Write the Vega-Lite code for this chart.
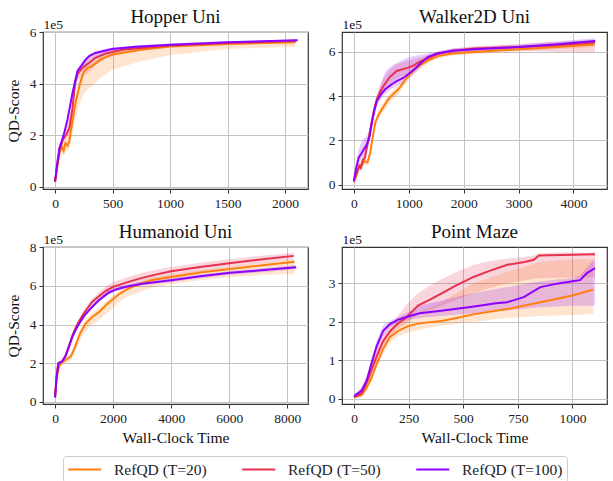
{
  "$schema": "https://vega.github.io/schema/vega-lite/v6.json",
  "background": "white",
  "padding": {"left": 5, "top": 7, "right": 2, "bottom": 2},
  "config": {
    "font": "Liberation Serif",
    "view": {"stroke": "#333333", "strokeWidth": 1.2},
    "axis": {
      "labelFont": "Liberation Serif", "labelFontSize": 13.5, "labelColor": "#222222", "labelOverlap": false,
      "titleFont": "Liberation Serif", "titleFontSize": 15.5, "titleFontWeight": "normal", "titleColor": "#111111",
      "tickColor": "#333333", "tickSize": 4, "labelPadding": 3,
      "gridColor": "#c4c4c4", "gridWidth": 1, "domain": false
    },
    "title": {"font": "Liberation Serif", "fontSize": 19, "fontWeight": 400, "color": "#111111", "offset": -10},
    "style": {"group-title": {"fontWeight": 400, "font": "Liberation Serif"}},
    "legend": {"labelFont": "Liberation Serif", "labelFontSize": 15.5, "labelColor": "#222222", "orient": "none", "legendX": 20, "legendY": 424, "direction": "horizontal", "symbolType": "M-1,0H3", "symbolSize": 272, "symbolStrokeWidth": 2, "symbolOpacity": 1, "labelOffset": 28, "columnPadding": 31, "strokeColor": "#cccccc", "padding": 4, "cornerRadius": 3}
  },
  "datasets": {
    "hopper": [
      {"method":"RefQD (T=20)","time":0,"lo":10000,"qd":20000,"hi":45000},
      {"method":"RefQD (T=20)","time":20,"lo":60000,"qd":80000,"hi":100000},
      {"method":"RefQD (T=20)","time":40,"lo":110000,"qd":135000,"hi":155000},
      {"method":"RefQD (T=20)","time":60,"lo":130000,"qd":155000,"hi":175000},
      {"method":"RefQD (T=20)","time":75,"lo":120000,"qd":140000,"hi":165000},
      {"method":"RefQD (T=20)","time":90,"lo":140000,"qd":170000,"hi":190000},
      {"method":"RefQD (T=20)","time":110,"lo":140000,"qd":160000,"hi":195000},
      {"method":"RefQD (T=20)","time":125,"lo":150000,"qd":180000,"hi":220000},
      {"method":"RefQD (T=20)","time":140,"lo":180000,"qd":225000,"hi":260000},
      {"method":"RefQD (T=20)","time":180,"lo":270000,"qd":330000,"hi":360000},
      {"method":"RefQD (T=20)","time":220,"lo":330000,"qd":405000,"hi":430000},
      {"method":"RefQD (T=20)","time":250,"lo":360000,"qd":445000,"hi":465000},
      {"method":"RefQD (T=20)","time":280,"lo":375000,"qd":460000,"hi":480000},
      {"method":"RefQD (T=20)","time":320,"lo":390000,"qd":468000,"hi":490000},
      {"method":"RefQD (T=20)","time":400,"lo":425000,"qd":495000,"hi":510000},
      {"method":"RefQD (T=20)","time":500,"lo":455000,"qd":513000,"hi":525000},
      {"method":"RefQD (T=20)","time":750,"lo":487000,"qd":531000,"hi":540000},
      {"method":"RefQD (T=20)","time":1000,"lo":510000,"qd":544000,"hi":550000},
      {"method":"RefQD (T=20)","time":1500,"lo":535000,"qd":554000,"hi":560000},
      {"method":"RefQD (T=20)","time":2090,"lo":542000,"qd":560000,"hi":566000},
      {"method":"RefQD (T=50)","time":0,"lo":15000,"qd":20000,"hi":30000},
      {"method":"RefQD (T=50)","time":20,"lo":75000,"qd":90000,"hi":105000},
      {"method":"RefQD (T=50)","time":40,"lo":130000,"qd":145000,"hi":160000},
      {"method":"RefQD (T=50)","time":70,"lo":170000,"qd":185000,"hi":200000},
      {"method":"RefQD (T=50)","time":100,"lo":190000,"qd":205000,"hi":225000},
      {"method":"RefQD (T=50)","time":125,"lo":210000,"qd":230000,"hi":260000},
      {"method":"RefQD (T=50)","time":150,"lo":270000,"qd":300000,"hi":330000},
      {"method":"RefQD (T=50)","time":175,"lo":370000,"qd":405000,"hi":425000},
      {"method":"RefQD (T=50)","time":200,"lo":415000,"qd":440000,"hi":455000},
      {"method":"RefQD (T=50)","time":240,"lo":430000,"qd":462000,"hi":475000},
      {"method":"RefQD (T=50)","time":300,"lo":445000,"qd":482000,"hi":495000},
      {"method":"RefQD (T=50)","time":350,"lo":470000,"qd":500000,"hi":510000},
      {"method":"RefQD (T=50)","time":450,"lo":500000,"qd":518000,"hi":528000},
      {"method":"RefQD (T=50)","time":600,"lo":520000,"qd":532000,"hi":540000},
      {"method":"RefQD (T=50)","time":1000,"lo":542000,"qd":548000,"hi":554000},
      {"method":"RefQD (T=50)","time":1500,"lo":552000,"qd":557000,"hi":562000},
      {"method":"RefQD (T=50)","time":2095,"lo":560000,"qd":566000,"hi":570000},
      {"method":"RefQD (T=100)","time":0,"lo":18000,"qd":22000,"hi":30000},
      {"method":"RefQD (T=100)","time":20,"lo":85000,"qd":95000,"hi":105000},
      {"method":"RefQD (T=100)","time":37,"lo":140000,"qd":150000,"hi":160000},
      {"method":"RefQD (T=100)","time":60,"lo":170000,"qd":180000,"hi":190000},
      {"method":"RefQD (T=100)","time":80,"lo":200000,"qd":210000,"hi":220000},
      {"method":"RefQD (T=100)","time":108,"lo":250000,"qd":260000,"hi":270000},
      {"method":"RefQD (T=100)","time":150,"lo":345000,"qd":360000,"hi":375000},
      {"method":"RefQD (T=100)","time":194,"lo":435000,"qd":448000,"hi":460000},
      {"method":"RefQD (T=100)","time":230,"lo":455000,"qd":470000,"hi":482000},
      {"method":"RefQD (T=100)","time":266,"lo":475000,"qd":493000,"hi":502000},
      {"method":"RefQD (T=100)","time":300,"lo":490000,"qd":508000,"hi":515000},
      {"method":"RefQD (T=100)","time":352,"lo":505000,"qd":519000,"hi":526000},
      {"method":"RefQD (T=100)","time":495,"lo":525000,"qd":534000,"hi":540000},
      {"method":"RefQD (T=100)","time":700,"lo":537000,"qd":543000,"hi":548000},
      {"method":"RefQD (T=100)","time":1011,"lo":546000,"qd":551000,"hi":556000},
      {"method":"RefQD (T=100)","time":1500,"lo":556000,"qd":560000,"hi":564000},
      {"method":"RefQD (T=100)","time":2110,"lo":564000,"qd":568000,"hi":572000}
    ],
    "walker": [
      {"method":"RefQD (T=20)","time":0,"lo":5000,"qd":10000,"hi":20000},
      {"method":"RefQD (T=20)","time":50,"lo":30000,"qd":45000,"hi":60000},
      {"method":"RefQD (T=20)","time":100,"lo":70000,"qd":85000,"hi":100000},
      {"method":"RefQD (T=20)","time":150,"lo":75000,"qd":90000,"hi":105000},
      {"method":"RefQD (T=20)","time":196,"lo":90000,"qd":106000,"hi":120000},
      {"method":"RefQD (T=20)","time":250,"lo":85000,"qd":100000,"hi":115000},
      {"method":"RefQD (T=20)","time":299,"lo":125000,"qd":144000,"hi":160000},
      {"method":"RefQD (T=20)","time":329,"lo":170000,"qd":190000,"hi":210000},
      {"method":"RefQD (T=20)","time":390,"lo":260000,"qd":280000,"hi":300000},
      {"method":"RefQD (T=20)","time":450,"lo":295000,"qd":315000,"hi":335000},
      {"method":"RefQD (T=20)","time":510,"lo":320000,"qd":340000,"hi":360000},
      {"method":"RefQD (T=20)","time":631,"lo":365000,"qd":386000,"hi":405000},
      {"method":"RefQD (T=20)","time":700,"lo":385000,"qd":405000,"hi":425000},
      {"method":"RefQD (T=20)","time":812,"lo":410000,"qd":431000,"hi":450000},
      {"method":"RefQD (T=20)","time":900,"lo":440000,"qd":460000,"hi":478000},
      {"method":"RefQD (T=20)","time":993,"lo":472000,"qd":491000,"hi":508000},
      {"method":"RefQD (T=20)","time":1100,"lo":502000,"qd":520000,"hi":535000},
      {"method":"RefQD (T=20)","time":1233,"lo":528000,"qd":544000,"hi":558000},
      {"method":"RefQD (T=20)","time":1400,"lo":555000,"qd":568000,"hi":580000},
      {"method":"RefQD (T=20)","time":1535,"lo":570000,"qd":581000,"hi":592000},
      {"method":"RefQD (T=20)","time":1800,"lo":583000,"qd":593000,"hi":603000},
      {"method":"RefQD (T=20)","time":2197,"lo":590000,"qd":600000,"hi":610000},
      {"method":"RefQD (T=20)","time":3000,"lo":602000,"qd":612000,"hi":622000},
      {"method":"RefQD (T=20)","time":3700,"lo":612000,"qd":622000,"hi":632000},
      {"method":"RefQD (T=20)","time":4380,"lo":622000,"qd":633000,"hi":643000},
      {"method":"RefQD (T=50)","time":0,"lo":10000,"qd":15000,"hi":25000},
      {"method":"RefQD (T=50)","time":50,"lo":35000,"qd":50000,"hi":65000},
      {"method":"RefQD (T=50)","time":100,"lo":70000,"qd":85000,"hi":100000},
      {"method":"RefQD (T=50)","time":130,"lo":60000,"qd":75000,"hi":95000},
      {"method":"RefQD (T=50)","time":160,"lo":90000,"qd":110000,"hi":130000},
      {"method":"RefQD (T=50)","time":200,"lo":100000,"qd":120000,"hi":145000},
      {"method":"RefQD (T=50)","time":240,"lo":150000,"qd":170000,"hi":195000},
      {"method":"RefQD (T=50)","time":280,"lo":200000,"qd":220000,"hi":245000},
      {"method":"RefQD (T=50)","time":330,"lo":270000,"qd":290000,"hi":315000},
      {"method":"RefQD (T=50)","time":380,"lo":330000,"qd":350000,"hi":375000},
      {"method":"RefQD (T=50)","time":420,"lo":365000,"qd":385000,"hi":410000},
      {"method":"RefQD (T=50)","time":480,"lo":395000,"qd":420000,"hi":450000},
      {"method":"RefQD (T=50)","time":540,"lo":415000,"qd":446000,"hi":480000},
      {"method":"RefQD (T=50)","time":650,"lo":450000,"qd":485000,"hi":520000},
      {"method":"RefQD (T=50)","time":780,"lo":480000,"qd":514000,"hi":545000},
      {"method":"RefQD (T=50)","time":990,"lo":500000,"qd":529000,"hi":560000},
      {"method":"RefQD (T=50)","time":1100,"lo":515000,"qd":540000,"hi":568000},
      {"method":"RefQD (T=50)","time":1203,"lo":535000,"qd":556000,"hi":575000},
      {"method":"RefQD (T=50)","time":1350,"lo":555000,"qd":572000,"hi":585000},
      {"method":"RefQD (T=50)","time":1535,"lo":578000,"qd":592000,"hi":603000},
      {"method":"RefQD (T=50)","time":1800,"lo":592000,"qd":605000,"hi":615000},
      {"method":"RefQD (T=50)","time":2200,"lo":600000,"qd":615000,"hi":625000},
      {"method":"RefQD (T=50)","time":3000,"lo":605000,"qd":622000,"hi":635000},
      {"method":"RefQD (T=50)","time":3700,"lo":600000,"qd":630000,"hi":645000},
      {"method":"RefQD (T=50)","time":4390,"lo":597000,"qd":642000,"hi":655000},
      {"method":"RefQD (T=100)","time":0,"lo":10000,"qd":16000,"hi":30000},
      {"method":"RefQD (T=100)","time":40,"lo":50000,"qd":70000,"hi":100000},
      {"method":"RefQD (T=100)","time":88,"lo":95000,"qd":122000,"hi":160000},
      {"method":"RefQD (T=100)","time":150,"lo":120000,"qd":145000,"hi":200000},
      {"method":"RefQD (T=100)","time":238,"lo":160000,"qd":182000,"hi":220000},
      {"method":"RefQD (T=100)","time":290,"lo":200000,"qd":220000,"hi":250000},
      {"method":"RefQD (T=100)","time":330,"lo":260000,"qd":280000,"hi":300000},
      {"method":"RefQD (T=100)","time":370,"lo":310000,"qd":330000,"hi":350000},
      {"method":"RefQD (T=100)","time":420,"lo":360000,"qd":378000,"hi":400000},
      {"method":"RefQD (T=100)","time":500,"lo":390000,"qd":410000,"hi":460000},
      {"method":"RefQD (T=100)","time":570,"lo":410000,"qd":431000,"hi":510000},
      {"method":"RefQD (T=100)","time":700,"lo":435000,"qd":455000,"hi":540000},
      {"method":"RefQD (T=100)","time":780,"lo":445000,"qd":468000,"hi":550000},
      {"method":"RefQD (T=100)","time":900,"lo":460000,"qd":482000,"hi":565000},
      {"method":"RefQD (T=100)","time":990,"lo":480000,"qd":499000,"hi":575000},
      {"method":"RefQD (T=100)","time":1100,"lo":500000,"qd":520000,"hi":582000},
      {"method":"RefQD (T=100)","time":1233,"lo":535000,"qd":552000,"hi":588000},
      {"method":"RefQD (T=100)","time":1350,"lo":562000,"qd":578000,"hi":593000},
      {"method":"RefQD (T=100)","time":1535,"lo":582000,"qd":594000,"hi":602000},
      {"method":"RefQD (T=100)","time":1800,"lo":595000,"qd":605000,"hi":615000},
      {"method":"RefQD (T=100)","time":2200,"lo":602000,"qd":612000,"hi":622000},
      {"method":"RefQD (T=100)","time":3000,"lo":612000,"qd":622000,"hi":634000},
      {"method":"RefQD (T=100)","time":3700,"lo":622000,"qd":635000,"hi":648000},
      {"method":"RefQD (T=100)","time":4396,"lo":635000,"qd":649000,"hi":662000}
    ],
    "humanoid": [
      {"method":"RefQD (T=20)","time":0,"lo":15000,"qd":25000,"hi":35000},
      {"method":"RefQD (T=20)","time":60,"lo":110000,"qd":130000,"hi":145000},
      {"method":"RefQD (T=20)","time":150,"lo":170000,"qd":185000,"hi":198000},
      {"method":"RefQD (T=20)","time":250,"lo":192000,"qd":205000,"hi":215000},
      {"method":"RefQD (T=20)","time":400,"lo":205000,"qd":220000,"hi":232000},
      {"method":"RefQD (T=20)","time":550,"lo":215000,"qd":235000,"hi":255000},
      {"method":"RefQD (T=20)","time":702,"lo":260000,"qd":288000,"hi":310000},
      {"method":"RefQD (T=20)","time":850,"lo":315000,"qd":350000,"hi":370000},
      {"method":"RefQD (T=20)","time":1043,"lo":365000,"qd":402000,"hi":420000},
      {"method":"RefQD (T=20)","time":1250,"lo":395000,"qd":435000,"hi":455000},
      {"method":"RefQD (T=20)","time":1497,"lo":420000,"qd":463000,"hi":485000},
      {"method":"RefQD (T=20)","time":1750,"lo":455000,"qd":500000,"hi":520000},
      {"method":"RefQD (T=20)","time":2008,"lo":490000,"qd":534000,"hi":552000},
      {"method":"RefQD (T=20)","time":2250,"lo":520000,"qd":562000,"hi":578000},
      {"method":"RefQD (T=20)","time":2520,"lo":545000,"qd":586000,"hi":600000},
      {"method":"RefQD (T=20)","time":3000,"lo":575000,"qd":615000,"hi":628000},
      {"method":"RefQD (T=20)","time":3313,"lo":590000,"qd":630000,"hi":642000},
      {"method":"RefQD (T=20)","time":4000,"lo":610000,"qd":647000,"hi":660000},
      {"method":"RefQD (T=20)","time":5000,"lo":630000,"qd":670000,"hi":682000},
      {"method":"RefQD (T=20)","time":6037,"lo":645000,"qd":688000,"hi":700000},
      {"method":"RefQD (T=20)","time":7000,"lo":655000,"qd":705000,"hi":716000},
      {"method":"RefQD (T=20)","time":8250,"lo":663000,"qd":726000,"hi":736000},
      {"method":"RefQD (T=50)","time":0,"lo":20000,"qd":25000,"hi":32000},
      {"method":"RefQD (T=50)","time":50,"lo":120000,"qd":130000,"hi":140000},
      {"method":"RefQD (T=50)","time":112,"lo":192000,"qd":200000,"hi":208000},
      {"method":"RefQD (T=50)","time":249,"lo":202000,"qd":210000,"hi":218000},
      {"method":"RefQD (T=50)","time":361,"lo":230000,"qd":240000,"hi":250000},
      {"method":"RefQD (T=50)","time":470,"lo":275000,"qd":285000,"hi":295000},
      {"method":"RefQD (T=50)","time":589,"lo":328000,"qd":340000,"hi":352000},
      {"method":"RefQD (T=50)","time":700,"lo":368000,"qd":380000,"hi":392000},
      {"method":"RefQD (T=50)","time":817,"lo":402000,"qd":415000,"hi":428000},
      {"method":"RefQD (T=50)","time":1000,"lo":445000,"qd":460000,"hi":475000},
      {"method":"RefQD (T=50)","time":1270,"lo":498000,"qd":516000,"hi":532000},
      {"method":"RefQD (T=50)","time":1500,"lo":525000,"qd":545000,"hi":565000},
      {"method":"RefQD (T=50)","time":1750,"lo":552000,"qd":575000,"hi":598000},
      {"method":"RefQD (T=50)","time":2000,"lo":570000,"qd":595000,"hi":620000},
      {"method":"RefQD (T=50)","time":2500,"lo":595000,"qd":620000,"hi":645000},
      {"method":"RefQD (T=50)","time":3000,"lo":615000,"qd":642000,"hi":668000},
      {"method":"RefQD (T=50)","time":3500,"lo":635000,"qd":660000,"hi":685000},
      {"method":"RefQD (T=50)","time":4000,"lo":650000,"qd":676000,"hi":698000},
      {"method":"RefQD (T=50)","time":5000,"lo":675000,"qd":698000,"hi":720000},
      {"method":"RefQD (T=50)","time":6000,"lo":695000,"qd":718000,"hi":738000},
      {"method":"RefQD (T=50)","time":7000,"lo":715000,"qd":736000,"hi":755000},
      {"method":"RefQD (T=50)","time":8220,"lo":735000,"qd":756000,"hi":772000},
      {"method":"RefQD (T=100)","time":0,"lo":18000,"qd":21000,"hi":26000},
      {"method":"RefQD (T=100)","time":50,"lo":112000,"qd":120000,"hi":128000},
      {"method":"RefQD (T=100)","time":112,"lo":190000,"qd":197000,"hi":204000},
      {"method":"RefQD (T=100)","time":249,"lo":202000,"qd":209000,"hi":216000},
      {"method":"RefQD (T=100)","time":361,"lo":228000,"qd":235000,"hi":242000},
      {"method":"RefQD (T=100)","time":470,"lo":272000,"qd":280000,"hi":288000},
      {"method":"RefQD (T=100)","time":589,"lo":324000,"qd":332000,"hi":340000},
      {"method":"RefQD (T=100)","time":700,"lo":362000,"qd":370000,"hi":378000},
      {"method":"RefQD (T=100)","time":817,"lo":394000,"qd":402000,"hi":410000},
      {"method":"RefQD (T=100)","time":1000,"lo":436000,"qd":445000,"hi":454000},
      {"method":"RefQD (T=100)","time":1270,"lo":480000,"qd":490000,"hi":500000},
      {"method":"RefQD (T=100)","time":1500,"lo":515000,"qd":525000,"hi":535000},
      {"method":"RefQD (T=100)","time":1838,"lo":555000,"qd":565000,"hi":575000},
      {"method":"RefQD (T=100)","time":2100,"lo":572000,"qd":582000,"hi":592000},
      {"method":"RefQD (T=100)","time":2405,"lo":585000,"qd":595000,"hi":605000},
      {"method":"RefQD (T=100)","time":3000,"lo":602000,"qd":612000,"hi":622000},
      {"method":"RefQD (T=100)","time":4000,"lo":620000,"qd":630000,"hi":640000},
      {"method":"RefQD (T=100)","time":5000,"lo":640000,"qd":650000,"hi":660000},
      {"method":"RefQD (T=100)","time":6037,"lo":658000,"qd":668000,"hi":678000},
      {"method":"RefQD (T=100)","time":7000,"lo":670000,"qd":680000,"hi":690000},
      {"method":"RefQD (T=100)","time":8307,"lo":686000,"qd":697000,"hi":708000}
    ],
    "maze": [
      {"method":"RefQD (T=20)","time":0,"lo":2000,"qd":5000,"hi":10000},
      {"method":"RefQD (T=20)","time":35,"lo":5000,"qd":10000,"hi":18000},
      {"method":"RefQD (T=20)","time":58,"lo":22000,"qd":30000,"hi":40000},
      {"method":"RefQD (T=20)","time":80,"lo":45000,"qd":55000,"hi":68000},
      {"method":"RefQD (T=20)","time":103,"lo":80000,"qd":90000,"hi":105000},
      {"method":"RefQD (T=20)","time":133,"lo":118000,"qd":130000,"hi":145000},
      {"method":"RefQD (T=20)","time":164,"lo":145000,"qd":160000,"hi":180000},
      {"method":"RefQD (T=20)","time":200,"lo":162000,"qd":176000,"hi":198000},
      {"method":"RefQD (T=20)","time":247,"lo":172000,"qd":189000,"hi":210000},
      {"method":"RefQD (T=20)","time":300,"lo":180000,"qd":196000,"hi":225000},
      {"method":"RefQD (T=20)","time":399,"lo":190000,"qd":202000,"hi":250000},
      {"method":"RefQD (T=20)","time":470,"lo":195000,"qd":210000,"hi":275000},
      {"method":"RefQD (T=20)","time":550,"lo":200000,"qd":220000,"hi":300000},
      {"method":"RefQD (T=20)","time":702,"lo":210000,"qd":233000,"hi":330000},
      {"method":"RefQD (T=20)","time":853,"lo":215000,"qd":251000,"hi":355000},
      {"method":"RefQD (T=20)","time":1005,"lo":218000,"qd":269000,"hi":362000},
      {"method":"RefQD (T=20)","time":1095,"lo":220000,"qd":284000,"hi":362000},
      {"method":"RefQD (T=50)","time":0,"lo":2000,"qd":5000,"hi":10000},
      {"method":"RefQD (T=50)","time":35,"lo":8000,"qd":15000,"hi":25000},
      {"method":"RefQD (T=50)","time":58,"lo":32000,"qd":42000,"hi":52000},
      {"method":"RefQD (T=50)","time":80,"lo":65000,"qd":75000,"hi":88000},
      {"method":"RefQD (T=50)","time":103,"lo":98000,"qd":110000,"hi":125000},
      {"method":"RefQD (T=50)","time":133,"lo":138000,"qd":150000,"hi":165000},
      {"method":"RefQD (T=50)","time":164,"lo":162000,"qd":175000,"hi":190000},
      {"method":"RefQD (T=50)","time":200,"lo":182000,"qd":195000,"hi":215000},
      {"method":"RefQD (T=50)","time":240,"lo":195000,"qd":212000,"hi":245000},
      {"method":"RefQD (T=50)","time":293,"lo":220000,"qd":242000,"hi":275000},
      {"method":"RefQD (T=50)","time":350,"lo":232000,"qd":258000,"hi":295000},
      {"method":"RefQD (T=50)","time":399,"lo":242000,"qd":273000,"hi":310000},
      {"method":"RefQD (T=50)","time":470,"lo":258000,"qd":295000,"hi":330000},
      {"method":"RefQD (T=50)","time":550,"lo":275000,"qd":317000,"hi":348000},
      {"method":"RefQD (T=50)","time":620,"lo":288000,"qd":332000,"hi":358000},
      {"method":"RefQD (T=50)","time":702,"lo":300000,"qd":348000,"hi":364000},
      {"method":"RefQD (T=50)","time":780,"lo":308000,"qd":355000,"hi":368000},
      {"method":"RefQD (T=50)","time":823,"lo":312000,"qd":361000,"hi":372000},
      {"method":"RefQD (T=50)","time":846,"lo":313000,"qd":372000,"hi":378000},
      {"method":"RefQD (T=50)","time":950,"lo":314000,"qd":373000,"hi":380000},
      {"method":"RefQD (T=50)","time":1103,"lo":315000,"qd":375000,"hi":380000},
      {"method":"RefQD (T=100)","time":0,"lo":3000,"qd":7000,"hi":12000},
      {"method":"RefQD (T=100)","time":35,"lo":15000,"qd":22000,"hi":30000},
      {"method":"RefQD (T=100)","time":58,"lo":40000,"qd":48000,"hi":60000},
      {"method":"RefQD (T=100)","time":80,"lo":80000,"qd":92000,"hi":105000},
      {"method":"RefQD (T=100)","time":103,"lo":120000,"qd":136000,"hi":150000},
      {"method":"RefQD (T=100)","time":133,"lo":162000,"qd":176000,"hi":190000},
      {"method":"RefQD (T=100)","time":164,"lo":185000,"qd":194000,"hi":202000},
      {"method":"RefQD (T=100)","time":200,"lo":195000,"qd":205000,"hi":212000},
      {"method":"RefQD (T=100)","time":247,"lo":205000,"qd":214000,"hi":225000},
      {"method":"RefQD (T=100)","time":300,"lo":210000,"qd":222000,"hi":242000},
      {"method":"RefQD (T=100)","time":399,"lo":215000,"qd":229000,"hi":255000},
      {"method":"RefQD (T=100)","time":550,"lo":222000,"qd":240000,"hi":275000},
      {"method":"RefQD (T=100)","time":650,"lo":227000,"qd":248000,"hi":285000},
      {"method":"RefQD (T=100)","time":702,"lo":230000,"qd":251000,"hi":290000},
      {"method":"RefQD (T=100)","time":777,"lo":234000,"qd":264000,"hi":298000},
      {"method":"RefQD (T=100)","time":853,"lo":238000,"qd":290000,"hi":305000},
      {"method":"RefQD (T=100)","time":929,"lo":240000,"qd":299000,"hi":310000},
      {"method":"RefQD (T=100)","time":1000,"lo":242000,"qd":305000,"hi":313000},
      {"method":"RefQD (T=100)","time":1035,"lo":242000,"qd":308000,"hi":320000},
      {"method":"RefQD (T=100)","time":1065,"lo":242000,"qd":326000,"hi":340000},
      {"method":"RefQD (T=100)","time":1103,"lo":242000,"qd":339000,"hi":364000}
    ]
  },
  "concat": [
    {
      "width": 265, "height": 157,
      "title": {"text": "Hopper Uni", "fontWeight": 400},
      "data": {"name": "hopper"},
      "resolve": {"scale": {"x": "independent"}},
      "layer": [
        {
          "mark": {"type": "area", "opacity": 0.2},
          "encoding": {
            "x": {"field": "time", "type": "quantitative", "scale": {"domain": [-105, 2200], "nice": false, "zero": false}, "axis": {"values": [0, 500, 1000, 1500, 2000], "tickCount": 20, "format": "d", "title": null}},
            "y": {"field": "lo", "type": "quantitative", "scale": {"domain": [-8000, 600000], "nice": false, "zero": false}, "axis": {"values": [0, 200000, 400000, 600000], "tickCount": 20, "labelExpr": "datum.value / 100000", "labelOverlap": false, "title": "QD-Score", "titlePadding": 8}},
            "y2": {"field": "hi"},
            "color": {"field": "method", "type": "nominal", "title": null, "scale": {"domain": ["RefQD (T=20)", "RefQD (T=50)", "RefQD (T=100)"], "range": ["#ff7f0e", "#e8304f", "#8c00ff"]}}
          }
        },
        {
          "mark": {"type": "line", "strokeWidth": 2},
          "encoding": {
            "x": {"field": "time", "type": "quantitative", "scale": {"domain": [-105, 2200], "nice": false, "zero": false}, "axis": {"orient": "top", "labels": false, "ticks": false, "grid": false, "title": "1e5", "titleFontSize": 13.5, "titleAnchor": "start", "titleAlign": "left", "titleX": 0, "titleY": -4, "titleBaseline": "alphabetic"}},
            "y": {"field": "qd", "type": "quantitative"},
            "color": {"field": "method", "type": "nominal", "title": null}
          }
        }
      ]
    },
    {
      "width": 265, "height": 157,
      "title": {"text": "Walker2D Uni", "fontWeight": 400},
      "data": {"name": "walker"},
      "resolve": {"scale": {"x": "independent"}},
      "layer": [
        {
          "mark": {"type": "area", "opacity": 0.2},
          "encoding": {
            "x": {"field": "time", "type": "quantitative", "scale": {"domain": [-215, 4610], "nice": false, "zero": false}, "axis": {"values": [0, 1000, 2000, 3000, 4000], "tickCount": 20, "format": "d", "title": null}},
            "y": {"field": "lo", "type": "quantitative", "scale": {"domain": [-20000, 690000], "nice": false, "zero": false}, "axis": {"values": [0, 200000, 400000, 600000], "tickCount": 20, "labelExpr": "datum.value / 100000", "labelOverlap": false, "title": null}},
            "y2": {"field": "hi"},
            "color": {"field": "method", "type": "nominal", "title": null}
          }
        },
        {
          "mark": {"type": "line", "strokeWidth": 2},
          "encoding": {
            "x": {"field": "time", "type": "quantitative", "scale": {"domain": [-215, 4610], "nice": false, "zero": false}, "axis": {"orient": "top", "labels": false, "ticks": false, "grid": false, "title": "1e5", "titleFontSize": 13.5, "titleAnchor": "start", "titleAlign": "left", "titleX": 0, "titleY": -4, "titleBaseline": "alphabetic"}},
            "y": {"field": "qd", "type": "quantitative"},
            "color": {"field": "method", "type": "nominal", "title": null}
          }
        }
      ]
    },
    {
      "width": 265, "height": 157,
      "title": {"text": "Humanoid Uni", "fontWeight": 400},
      "data": {"name": "humanoid"},
      "resolve": {"scale": {"x": "independent"}},
      "layer": [
        {
          "mark": {"type": "area", "opacity": 0.2},
          "encoding": {
            "x": {"field": "time", "type": "quantitative", "scale": {"domain": [-415, 8715], "nice": false, "zero": false}, "axis": {"values": [0, 2000, 4000, 6000, 8000], "tickCount": 20, "format": "d", "title": "Wall-Clock Time", "titlePadding": 6}},
            "y": {"field": "lo", "type": "quantitative", "scale": {"domain": [-12000, 802000], "nice": false, "zero": false}, "axis": {"values": [0, 200000, 400000, 600000, 800000], "tickCount": 20, "labelExpr": "datum.value / 100000", "labelOverlap": false, "title": "QD-Score", "titlePadding": 8}},
            "y2": {"field": "hi"},
            "color": {"field": "method", "type": "nominal", "title": null}
          }
        },
        {
          "mark": {"type": "line", "strokeWidth": 2},
          "encoding": {
            "x": {"field": "time", "type": "quantitative", "scale": {"domain": [-415, 8715], "nice": false, "zero": false}, "axis": {"orient": "top", "labels": false, "ticks": false, "grid": false, "title": "1e5", "titleFontSize": 13.5, "titleAnchor": "start", "titleAlign": "left", "titleX": 0, "titleY": -4, "titleBaseline": "alphabetic"}},
            "y": {"field": "qd", "type": "quantitative"},
            "color": {"field": "method", "type": "nominal", "title": null}
          }
        }
      ]
    },
    {
      "width": 265, "height": 157,
      "title": {"text": "Point Maze", "fontWeight": 400},
      "data": {"name": "maze"},
      "resolve": {"scale": {"x": "independent"}},
      "layer": [
        {
          "mark": {"type": "area", "opacity": 0.2},
          "encoding": {
            "x": {"field": "time", "type": "quantitative", "scale": {"domain": [-55, 1158], "nice": false, "zero": false}, "axis": {"values": [0, 250, 500, 750, 1000], "tickCount": 20, "format": "d", "title": "Wall-Clock Time", "titlePadding": 6}},
            "y": {"field": "lo", "type": "quantitative", "scale": {"domain": [-13000, 394000], "nice": false, "zero": false}, "axis": {"values": [0, 100000, 200000, 300000], "tickCount": 20, "labelExpr": "datum.value / 100000", "labelOverlap": false, "title": null}},
            "y2": {"field": "hi"},
            "color": {"field": "method", "type": "nominal", "title": null}
          }
        },
        {
          "mark": {"type": "line", "strokeWidth": 2},
          "encoding": {
            "x": {"field": "time", "type": "quantitative", "scale": {"domain": [-55, 1158], "nice": false, "zero": false}, "axis": {"orient": "top", "labels": false, "ticks": false, "grid": false, "title": "1e5", "titleFontSize": 13.5, "titleAnchor": "start", "titleAlign": "left", "titleX": 0, "titleY": -4, "titleBaseline": "alphabetic"}},
            "y": {"field": "qd", "type": "quantitative"},
            "color": {"field": "method", "type": "nominal", "title": null}
          }
        }
      ]
    }
  ],
  "columns": 2,
  "spacing": {"row": 11, "column": 18}
}
